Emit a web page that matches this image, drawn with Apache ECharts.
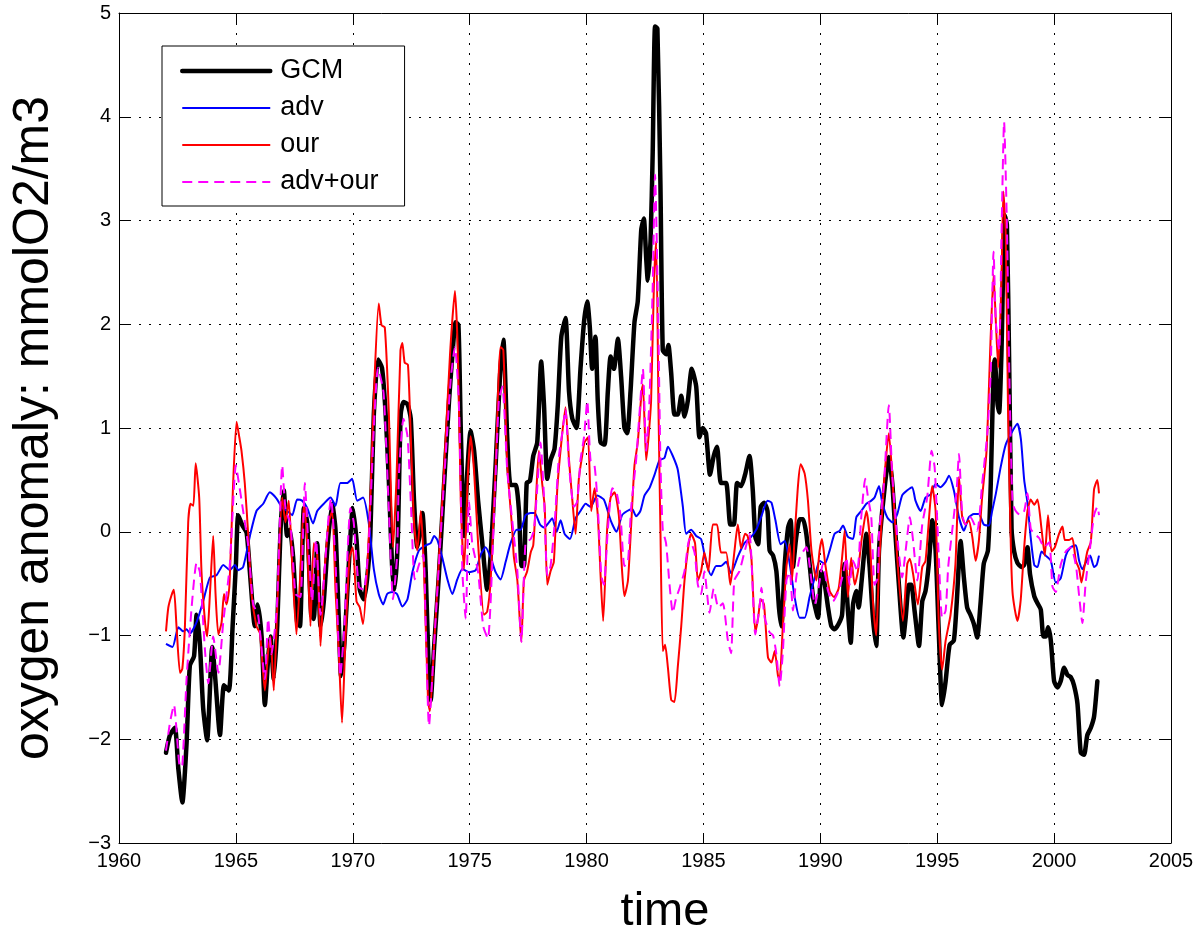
<!DOCTYPE html>
<html>
<head>
<meta charset="utf-8">
<script src="https://cdn.jsdelivr.net/npm/echarts@6/dist/echarts.min.js"></script>
<style>
  html, body { margin: 0; padding: 0; background: #fff; }
  #chart { width: 1197px; height: 938px; }
</style>
</head>
<body>
<div id="chart"></div>
<script>
// GCM oxygen anomaly
const gcmYear = [1962.01,1962.18,1962.39,1962.54,1962.71,1962.89,1963.03,1963.21,1963.32,1963.46,1963.60,1963.77,1963.99,1964.12,1964.32,1964.49,1964.70,1964.86,1965.00,1965.10,1965.28,1965.46,1965.60,1965.81,1965.93,1966.10,1966.24,1966.38,1966.48,1966.62,1966.77,1966.91,1967.05,1967.19,1967.31,1967.45,1967.62,1967.74,1967.91,1968.05,1968.22,1968.33,1968.48,1968.62,1968.76,1968.93,1969.12,1969.26,1969.40,1969.50,1969.64,1969.83,1970.00,1970.16,1970.30,1970.47,1970.61,1970.75,1970.90,1971.08,1971.25,1971.40,1971.54,1971.68,1971.78,1971.92,1972.05,1972.17,1972.34,1972.48,1972.62,1972.76,1972.88,1972.98,1973.12,1973.26,1973.33,1973.48,1973.69,1973.90,1974.12,1974.30,1974.40,1974.52,1974.62,1974.76,1974.90,1975.04,1975.19,1975.36,1975.54,1975.75,1975.90,1976.11,1976.30,1976.44,1976.61,1976.75,1976.97,1977.11,1977.22,1977.32,1977.44,1977.58,1977.72,1977.89,1978.06,1978.18,1978.32,1978.46,1978.63,1978.77,1978.92,1979.10,1979.25,1979.39,1979.57,1979.74,1979.89,1980.03,1980.14,1980.24,1980.38,1980.48,1980.60,1980.77,1980.91,1981.03,1981.17,1981.34,1981.48,1981.62,1981.74,1981.88,1982.05,1982.19,1982.34,1982.45,1982.55,1982.62,1982.74,1982.83,1982.93,1983.03,1983.16,1983.26,1983.40,1983.50,1983.62,1983.76,1983.90,1984.05,1984.19,1984.33,1984.50,1984.69,1984.83,1984.97,1985.11,1985.28,1985.44,1985.58,1985.75,1985.97,1986.15,1986.30,1986.44,1986.61,1986.78,1986.97,1987.11,1987.22,1987.34,1987.45,1987.59,1987.74,1987.83,1987.98,1988.12,1988.23,1988.33,1988.48,1988.62,1988.73,1988.83,1988.97,1989.12,1989.26,1989.40,1989.54,1989.69,1989.90,1990.04,1990.19,1990.33,1990.47,1990.61,1990.78,1990.93,1991.04,1991.18,1991.30,1991.40,1991.54,1991.64,1991.78,1991.97,1992.11,1992.25,1992.39,1992.51,1992.72,1992.93,1993.08,1993.22,1993.36,1993.55,1993.65,1993.79,1993.89,1994.03,1994.22,1994.36,1994.50,1994.64,1994.79,1994.93,1995.07,1995.21,1995.36,1995.53,1995.71,1995.83,1996.00,1996.14,1996.28,1996.42,1996.57,1996.71,1996.85,1996.99,1997.17,1997.29,1997.41,1997.46,1997.58,1997.65,1997.75,1997.89,1997.98,1998.08,1998.18,1998.29,1998.43,1998.60,1998.72,1998.86,1998.97,1999.15,1999.29,1999.43,1999.54,1999.64,1999.74,1999.86,2000.00,2000.14,2000.28,2000.43,2000.57,2000.71,2000.85,2001.00,2001.14,2001.28,2001.42,2001.57,2001.71,2001.85];
const gcmValue = [-2.13,-1.96,-1.89,-2.29,-2.61,-2.04,-1.29,-1.20,-0.80,-1.08,-1.70,-2.01,-1.11,-1.42,-1.96,-1.48,-1.53,-0.91,-0.32,0.16,0.06,-0.01,-0.39,-0.91,-0.70,-1.01,-1.67,-1.22,-1.01,-1.42,-0.90,0.02,0.40,-0.04,0.02,-0.25,-0.87,-0.91,0.23,0.09,-0.80,-0.84,-0.11,-0.91,-0.67,-0.11,0.27,0.02,-0.84,-1.39,-1.08,-0.32,0.23,-0.08,-0.56,-0.65,-0.46,-0.04,1.13,1.66,1.58,1.16,0.51,-0.32,-0.56,-0.11,1.13,1.25,1.23,1.09,0.30,-0.15,-0.01,0.18,-0.39,-1.42,-1.63,-1.11,-0.39,0.44,1.27,1.82,2.02,1.99,0.99,-0.04,0.58,0.97,0.78,0.30,-0.11,-0.56,-0.22,0.64,1.51,1.85,0.89,0.45,0.45,0.20,-0.33,-0.33,0.47,0.49,0.73,0.86,1.64,1.22,0.51,0.69,0.80,1.22,1.88,2.06,1.35,1.09,1.00,1.57,2.02,2.22,1.97,1.57,1.88,1.26,0.86,0.84,1.35,1.69,1.57,1.86,1.49,1.00,0.95,1.35,2.02,2.22,2.91,3.02,2.64,2.42,2.82,3.66,4.87,4.85,3.35,1.75,1.71,1.80,1.53,1.13,1.13,1.31,1.11,1.26,1.57,1.40,0.91,1.00,0.95,0.55,0.73,0.82,0.47,0.47,0.07,0.07,0.47,0.44,0.55,0.73,0.40,-0.05,-0.12,0.24,0.28,0.20,-0.18,-0.23,-0.38,-0.73,-0.91,-0.31,0.04,0.11,-0.34,-0.05,0.12,0.12,-0.02,-0.31,-0.63,-0.83,-0.38,-0.51,-0.73,-0.91,-0.94,-0.89,-0.80,-0.31,-0.76,-1.07,-0.70,-0.57,-0.73,-0.44,-0.02,-0.34,-0.83,-1.10,-0.18,0.36,0.72,0.46,-0.05,-0.51,-1.02,-0.83,-0.51,-0.51,-0.76,-1.10,-0.67,-0.57,-0.31,0.11,-0.18,-0.99,-1.67,-1.44,-1.09,-1.05,-0.70,-0.09,-0.44,-0.73,-0.80,-0.89,-1.02,-0.70,-0.31,-0.18,0.46,1.58,1.66,1.23,1.15,1.75,3.05,2.96,1.58,0.03,-0.19,-0.30,-0.34,-0.32,-0.15,-0.41,-0.62,-0.69,-0.75,-1.01,-1.01,-0.92,-1.05,-1.44,-1.50,-1.44,-1.31,-1.38,-1.40,-1.48,-1.66,-2.13,-2.15,-1.96,-1.89,-1.78,-1.44];

// adv
const advYear = [1962.01,1962.29,1962.54,1962.75,1962.89,1963.03,1963.32,1963.60,1963.89,1964.17,1964.46,1964.74,1964.96,1965.10,1965.31,1965.60,1965.88,1966.17,1966.45,1966.74,1966.98,1967.19,1967.41,1967.62,1967.83,1968.05,1968.30,1968.48,1968.76,1969.05,1969.26,1969.47,1969.76,1969.97,1970.19,1970.44,1970.68,1970.90,1971.11,1971.30,1971.47,1971.68,1971.89,1972.12,1972.34,1972.55,1972.83,1973.12,1973.33,1973.48,1973.62,1973.83,1974.05,1974.26,1974.47,1974.69,1974.97,1975.26,1975.47,1975.68,1975.90,1976.11,1976.32,1976.54,1976.75,1977.01,1977.18,1977.39,1977.61,1977.78,1978.01,1978.18,1978.39,1978.53,1978.72,1978.89,1979.06,1979.29,1979.53,1979.74,1979.96,1980.17,1980.46,1980.74,1981.03,1981.28,1981.52,1981.74,1981.95,1982.12,1982.30,1982.48,1982.69,1982.91,1983.12,1983.33,1983.48,1983.69,1983.90,1984.12,1984.26,1984.47,1984.69,1984.90,1985.11,1985.33,1985.54,1985.75,1985.97,1986.18,1986.47,1986.75,1987.04,1987.26,1987.48,1987.74,1987.91,1988.08,1988.30,1988.48,1988.69,1988.90,1989.12,1989.33,1989.54,1989.76,1989.97,1990.19,1990.40,1990.61,1990.83,1990.97,1991.18,1991.40,1991.54,1991.75,1991.97,1992.18,1992.32,1992.51,1992.65,1992.86,1993.08,1993.29,1993.50,1993.72,1993.93,1994.07,1994.29,1994.50,1994.72,1994.93,1995.14,1995.36,1995.50,1995.71,1995.93,1996.14,1996.35,1996.57,1996.78,1996.99,1997.21,1997.35,1997.51,1997.72,1997.93,1998.22,1998.43,1998.58,1998.72,1998.86,1999.00,1999.15,1999.29,1999.46,1999.64,1999.86,2000.07,2000.28,2000.50,2000.71,2000.93,2001.07,2001.21,2001.35,2001.54,2001.71,2001.82,2001.92];
const advValue = [-1.08,-1.11,-0.92,-0.96,-0.94,-0.98,-0.87,-0.67,-0.44,-0.42,-0.32,-0.37,-0.32,-0.37,-0.34,-0.04,0.20,0.27,0.38,0.32,0.23,0.20,0.16,0.31,0.30,0.23,0.08,0.20,0.27,0.33,0.25,0.47,0.47,0.51,0.30,0.33,0.09,-0.36,-0.60,-0.70,-0.60,-0.58,-0.60,-0.72,-0.65,-0.39,-0.18,-0.13,-0.11,-0.04,-0.08,-0.25,-0.46,-0.60,-0.46,-0.36,-0.39,-0.37,-0.22,-0.15,-0.25,-0.39,-0.46,-0.29,-0.11,0.02,0.02,0.16,0.18,0.18,0.07,0.04,0.09,0.13,0.00,0.11,-0.02,-0.07,0.13,0.20,0.27,0.24,0.35,0.31,0.11,0.00,0.16,0.20,0.22,0.15,0.20,0.35,0.42,0.55,0.69,0.71,0.82,0.73,0.60,0.24,-0.02,0.02,-0.04,-0.07,-0.29,-0.42,-0.33,-0.33,-0.29,-0.40,-0.24,-0.11,-0.05,0.02,0.15,0.30,0.28,0.11,-0.12,-0.09,-0.31,-0.63,-0.83,-0.83,-0.63,-0.44,-0.28,-0.31,-0.18,-0.02,0.01,0.06,-0.05,-0.07,0.14,0.20,0.27,0.30,0.33,0.44,0.28,0.14,0.09,0.17,0.35,0.40,0.43,0.30,0.20,0.33,0.36,0.46,0.43,0.48,0.54,0.40,0.14,0.01,0.14,0.17,0.17,0.07,0.06,0.20,0.37,0.63,0.84,0.97,1.04,0.89,0.50,0.28,-0.06,-0.32,-0.34,-0.19,-0.23,-0.28,-0.49,-0.45,-0.23,-0.15,-0.13,-0.28,-0.36,-0.30,-0.23,-0.34,-0.32,-0.23];

// our
const ourYear = [1962.01,1962.11,1962.25,1962.35,1962.46,1962.61,1962.71,1962.82,1962.96,1963.06,1963.18,1963.28,1963.43,1963.53,1963.68,1963.77,1963.89,1964.03,1964.13,1964.25,1964.39,1964.49,1964.60,1964.72,1964.89,1965.03,1965.14,1965.24,1965.38,1965.53,1965.67,1965.88,1966.03,1966.24,1966.38,1966.48,1966.62,1966.77,1966.98,1967.12,1967.26,1967.41,1967.59,1967.76,1967.91,1968.05,1968.19,1968.33,1968.48,1968.62,1968.76,1968.97,1969.12,1969.26,1969.40,1969.54,1969.69,1969.86,1970.00,1970.16,1970.30,1970.44,1970.61,1970.75,1970.93,1971.11,1971.23,1971.37,1971.54,1971.72,1971.87,1972.04,1972.12,1972.22,1972.36,1972.48,1972.62,1972.76,1972.91,1973.05,1973.22,1973.30,1973.48,1973.69,1973.90,1974.16,1974.37,1974.50,1974.62,1974.76,1974.93,1975.04,1975.19,1975.36,1975.61,1975.75,1975.90,1976.11,1976.32,1976.44,1976.61,1976.82,1976.89,1977.04,1977.21,1977.32,1977.46,1977.61,1977.72,1977.82,1977.96,1978.10,1978.21,1978.32,1978.46,1978.60,1978.75,1978.92,1979.10,1979.25,1979.39,1979.53,1979.67,1979.81,1979.91,1980.06,1980.20,1980.34,1980.48,1980.60,1980.71,1980.88,1981.03,1981.20,1981.38,1981.52,1981.62,1981.77,1981.91,1982.05,1982.19,1982.34,1982.41,1982.55,1982.65,1982.76,1982.88,1982.98,1983.08,1983.16,1983.26,1983.36,1983.48,1983.62,1983.76,1983.90,1984.05,1984.19,1984.36,1984.47,1984.64,1984.76,1984.90,1985.04,1985.21,1985.40,1985.58,1985.75,1985.97,1986.15,1986.32,1986.47,1986.61,1986.78,1986.89,1987.05,1987.22,1987.34,1987.45,1987.59,1987.76,1987.91,1988.05,1988.19,1988.26,1988.40,1988.55,1988.69,1988.79,1988.90,1989.05,1989.16,1989.33,1989.47,1989.62,1989.83,1989.97,1990.07,1990.21,1990.40,1990.58,1990.78,1990.93,1991.04,1991.18,1991.32,1991.47,1991.61,1991.78,1991.97,1992.11,1992.25,1992.39,1992.51,1992.72,1992.93,1993.08,1993.29,1993.53,1993.72,1993.83,1993.97,1994.17,1994.36,1994.50,1994.79,1994.93,1995.07,1995.21,1995.36,1995.57,1995.78,1995.93,1996.07,1996.21,1996.35,1996.50,1996.64,1996.78,1996.92,1997.11,1997.29,1997.41,1997.51,1997.61,1997.75,1997.83,1997.93,1998.03,1998.15,1998.22,1998.32,1998.43,1998.57,1998.72,1998.86,1999.00,1999.15,1999.29,1999.46,1999.60,1999.74,1999.89,2000.03,2000.21,2000.36,2000.46,2000.64,2000.78,2000.93,2001.07,2001.17,2001.28,2001.42,2001.57,2001.71,2001.85,2001.92];
const ourValue = [-0.96,-0.73,-0.61,-0.56,-0.91,-1.36,-1.32,-0.91,0.09,0.27,0.25,0.66,0.33,-0.39,-0.87,-1.01,-0.60,-0.04,-0.60,-0.99,-0.87,-0.60,-0.70,-0.53,0.51,1.06,0.92,0.78,0.47,-0.04,-0.60,-0.91,-0.98,-1.53,-1.15,-1.01,-1.53,-0.73,0.33,0.09,0.30,-0.32,-0.99,-0.39,0.27,-0.11,-0.91,-0.11,-0.22,-1.10,-0.49,0.09,0.20,-0.56,-1.15,-1.84,-1.01,-0.25,-0.15,-0.67,-0.73,-0.89,-0.39,0.30,1.47,2.20,1.99,1.97,1.16,-0.15,0.51,1.75,1.82,1.63,1.61,0.92,0.09,-0.18,0.20,-0.39,-1.63,-1.73,-1.08,-0.25,0.58,1.71,2.32,1.68,0.30,-0.36,0.58,0.92,0.58,-0.11,-0.80,-0.77,-0.46,0.64,1.78,1.75,0.64,0.02,-0.24,-0.47,-1.06,-0.47,-0.38,-0.20,-0.13,0.24,0.78,0.47,0.24,-0.51,-0.38,-0.29,0.42,0.86,1.20,0.69,0.31,-0.02,0.51,0.73,0.86,0.91,0.20,0.42,0.16,-0.42,-0.86,0.02,0.33,0.38,0.16,-0.38,-0.62,-0.47,0.07,0.64,0.86,1.31,1.42,0.69,0.91,1.26,2.37,2.80,1.13,0.02,-1.15,-1.09,-1.31,-1.62,-1.64,-1.31,-0.91,-0.47,-0.13,-0.02,-0.11,-0.47,-0.38,-0.20,-0.38,0.07,0.07,-0.20,-0.20,-0.51,-0.20,0.07,-0.16,-0.02,-0.04,-0.25,-0.97,-0.83,-0.65,-0.70,-1.21,-1.26,-1.15,-1.39,-1.42,-0.89,-0.34,-0.12,-0.47,-0.05,0.46,0.65,0.56,0.30,-0.18,-0.47,-0.18,-0.07,-0.31,-0.57,-0.63,-0.55,-0.25,0.01,-0.63,-0.25,-0.51,-0.38,-0.05,0.20,-0.05,-0.67,-1.00,-0.34,0.46,0.95,0.53,-0.25,-0.86,-0.31,-0.26,-0.41,-0.70,-0.34,-0.28,0.44,0.20,-0.89,-1.33,-1.05,-0.80,-0.31,0.53,0.14,0.07,0.11,-0.05,-0.28,-0.09,0.33,0.78,1.90,2.48,2.01,1.58,2.44,3.28,2.87,1.15,-0.15,-0.58,-0.75,-0.86,-0.66,-0.15,0.20,0.31,0.26,0.31,0.03,-0.23,0.16,-0.19,-0.15,-0.02,0.05,-0.08,-0.08,-0.06,-0.28,-0.36,-0.49,-0.36,-0.19,-0.10,0.41,0.50,0.37];

// adv+our
const sumYear = [1962.01,1962.18,1962.35,1962.61,1962.71,1962.89,1963.11,1963.32,1963.46,1963.68,1963.82,1964.03,1964.25,1964.46,1964.74,1965.00,1965.10,1965.31,1965.53,1965.74,1965.95,1966.24,1966.38,1966.52,1966.74,1966.84,1966.98,1967.12,1967.34,1967.55,1967.76,1967.95,1968.12,1968.26,1968.43,1968.62,1968.97,1969.07,1969.26,1969.47,1969.64,1969.90,1970.04,1970.26,1970.47,1970.68,1970.90,1971.08,1971.32,1971.54,1971.72,1971.89,1971.98,1972.17,1972.34,1972.48,1972.65,1972.83,1973.02,1973.12,1973.26,1973.48,1973.90,1974.19,1974.37,1974.54,1974.69,1974.83,1974.97,1975.11,1975.36,1975.58,1975.78,1976.04,1976.25,1976.40,1976.61,1976.89,1977.04,1977.21,1977.39,1977.61,1977.75,1977.89,1978.03,1978.18,1978.32,1978.46,1978.63,1978.82,1978.96,1979.10,1979.25,1979.46,1979.60,1979.74,1979.89,1980.03,1980.17,1980.34,1980.48,1980.63,1980.74,1980.91,1981.10,1981.28,1981.45,1981.62,1981.77,1981.91,1982.12,1982.26,1982.41,1982.55,1982.69,1982.83,1982.93,1983.05,1983.16,1983.26,1983.40,1983.55,1983.69,1983.83,1983.97,1984.19,1984.40,1984.62,1984.76,1984.90,1985.04,1985.26,1985.44,1985.64,1985.83,1986.04,1986.18,1986.32,1986.54,1986.75,1986.97,1987.22,1987.41,1987.48,1987.62,1987.83,1987.98,1988.12,1988.26,1988.40,1988.55,1988.69,1988.83,1988.97,1989.12,1989.40,1989.62,1989.76,1989.90,1990.11,1990.33,1990.54,1990.78,1990.97,1991.11,1991.25,1991.40,1991.58,1991.75,1991.92,1992.04,1992.18,1992.32,1992.46,1992.51,1992.72,1992.93,1993.08,1993.29,1993.50,1993.65,1993.83,1993.97,1994.15,1994.36,1994.57,1994.76,1994.89,1995.07,1995.21,1995.36,1995.47,1995.64,1995.83,1995.93,1996.07,1996.21,1996.42,1996.71,1996.92,1997.14,1997.28,1997.41,1997.51,1997.65,1997.75,1997.86,1997.98,1998.08,1998.22,1998.36,1998.55,1998.72,1998.86,1999.00,1999.15,1999.36,1999.57,1999.79,1999.93,2000.07,2000.28,2000.50,2000.71,2000.93,2001.07,2001.21,2001.35,2001.54,2001.71,2001.85,2001.92];
const sumValue = [-2.11,-1.84,-1.67,-2.27,-2.25,-1.42,-0.72,-0.30,-0.39,-1.15,-1.46,-1.01,-1.36,-0.87,-0.32,0.64,0.51,0.20,-0.14,-0.70,-0.80,-1.42,-0.84,-1.18,-0.77,-0.18,0.64,0.23,0.06,-0.60,-0.63,0.47,-0.22,-0.67,-0.08,-0.80,0.16,0.32,-0.29,-1.39,-0.91,0.23,0.09,-0.53,-0.56,-0.11,0.99,1.58,1.33,0.23,-0.65,-0.25,0.58,1.09,0.92,0.30,-0.46,-0.32,-0.22,-0.91,-1.87,-1.08,0.47,1.47,1.78,1.23,-0.39,-0.84,0.30,-0.11,-0.39,-0.91,-1.03,0.13,1.27,1.40,0.58,-0.04,-0.38,-1.06,-0.11,-0.07,0.02,0.42,0.86,0.33,-0.42,-0.33,0.07,0.73,0.95,1.18,0.64,0.24,0.29,0.69,0.91,1.26,0.69,0.64,0.24,-0.42,-0.51,0.02,0.42,0.38,0.16,-0.33,-0.29,0.24,0.69,1.13,1.57,0.78,1.26,2.37,3.44,2.24,0.69,0.02,-0.11,-0.51,-0.78,-0.64,-0.55,-0.38,-0.07,-0.20,-0.51,-0.60,-0.38,-0.78,-0.55,-0.73,-0.69,-1.04,-1.17,-0.47,-0.38,-0.20,-0.02,-0.99,-0.70,-0.54,-0.83,-0.97,-1.00,-1.18,-1.49,-1.15,-0.47,-0.39,-0.76,-0.44,-0.25,-0.15,-0.47,-0.70,-0.57,-0.31,-0.57,-0.67,-0.57,-0.41,-0.25,-0.51,-0.28,-0.38,0.14,0.51,0.33,0.14,-0.51,-0.44,-0.02,0.46,1.22,0.53,-0.05,-0.44,-0.18,0.14,-0.09,-0.47,0.07,0.33,0.78,0.62,-0.25,-0.83,-0.76,-0.34,0.01,0.40,0.75,0.17,0.07,0.14,0.01,0.46,0.94,1.49,2.70,2.01,1.75,2.87,3.95,2.96,1.58,0.28,0.20,0.16,0.20,0.37,0.03,-0.02,-0.06,-0.15,-0.10,-0.53,-0.58,-0.32,-0.19,-0.15,-0.32,-0.62,-0.88,-0.49,-0.15,0.16,0.24,0.16];

const seriesNames = ["GCM", "adv", "our", "adv+our"];
const seriesColors = ["#000000", "#0000ff", "#ff0000", "#ff00ff"];
const seriesWidths = [4.5, 2, 2, 2];

function pairs(xs, ys) {
  return xs.map((x, i) => [x, ys[i]]);
}

const FONT = "'Liberation Sans', Arial, Helvetica, sans-serif";
const chart = echarts.init(document.getElementById("chart"), null, { renderer: "canvas" });

const gridDots = { color: "#000", width: 1, type: [2, 8] };
const tickStyle = { show: true, inside: true, length: 10, lineStyle: { color: "#000", width: 1 } };
const axisLine = { show: true, onZero: false, lineStyle: { color: "#000", width: 1 } };
const dash = [10, 6];

const option = {
  backgroundColor: "#fff",
  animation: false,
  // keep the plot box fixed even though the big axis titles reach the page edge
  grid: { left: 119, right: 26, top: 13, bottom: 95, containLabel: false, outerBoundsMode: "none" },
  legend: {
    orient: "vertical",
    left: 162,
    top: 46,
    backgroundColor: "#fff",
    borderColor: "#000",
    borderWidth: 1,
    padding: [10, 26, 9, 18],
    itemWidth: 88,
    itemHeight: 14,
    itemGap: 7,
    itemStyle: { opacity: 0 },
    textStyle: { fontSize: 27, color: "#000", fontFamily: FONT, lineHeight: 30, padding: [0, 0, 0, 5] },
    data: seriesNames.map((name, i) => ({
      name: name,
      lineStyle: {
        color: seriesColors[i],
        width: seriesWidths[i],
        type: name === "adv+our" ? dash : "solid",
      },
    })),
  },
  xAxis: [
    {
      type: "value",
      min: 1960,
      max: 2005,
      interval: 5,
      position: "bottom",
      axisLine: axisLine,
      axisTick: tickStyle,
      axisLabel: { fontSize: 20, color: "#000", fontFamily: FONT, margin: 8, formatter: (v) => String(v) },
      splitLine: { show: true, lineStyle: gridDots },
      name: "time",
      nameLocation: "middle",
      nameGap: 46,
      nameTextStyle: { fontSize: 47, color: "#000", fontFamily: FONT, padding: [0, 0, 0, 40] },
    },
    {
      type: "value",
      min: 1960,
      max: 2005,
      interval: 5,
      position: "top",
      axisLine: axisLine,
      axisTick: tickStyle,
      axisLabel: { show: false },
      splitLine: { show: false },
    },
  ],
  yAxis: [
    {
      type: "value",
      min: -3,
      max: 5,
      interval: 1,
      position: "left",
      axisLine: axisLine,
      axisTick: tickStyle,
      axisLabel: {
        fontSize: 20,
        color: "#000",
        fontFamily: FONT,
        margin: 8,
        formatter: (v) => String(v).replace("-", "\u2212"),
      },
      splitLine: { show: true, lineStyle: gridDots },
      name: "oxygen anomaly: mmolO2/m3",
      nameLocation: "middle",
      nameGap: 60,
      nameTextStyle: { fontSize: 50, color: "#000", fontFamily: FONT },
    },
    {
      type: "value",
      min: -3,
      max: 5,
      interval: 1,
      position: "right",
      axisLine: axisLine,
      axisTick: tickStyle,
      axisLabel: { show: false },
      splitLine: { show: false },
    },
  ],
  series: [
    {
      name: "GCM",
      type: "line",
      symbol: "none",
      smooth: 0.2,
      data: pairs(gcmYear, gcmValue),
      lineStyle: { color: seriesColors[0], width: seriesWidths[0], join: "round", cap: "round" },
      itemStyle: { color: seriesColors[0] },
    },
    {
      name: "adv",
      type: "line",
      symbol: "none",
      smooth: 0.2,
      data: pairs(advYear, advValue),
      lineStyle: { color: seriesColors[1], width: seriesWidths[1] },
      itemStyle: { color: seriesColors[1] },
    },
    {
      name: "our",
      type: "line",
      symbol: "none",
      smooth: 0.2,
      data: pairs(ourYear, ourValue),
      lineStyle: { color: seriesColors[2], width: seriesWidths[2] },
      itemStyle: { color: seriesColors[2] },
    },
    {
      name: "adv+our",
      type: "line",
      symbol: "none",
      smooth: 0.2,
      data: pairs(sumYear, sumValue),
      lineStyle: { color: seriesColors[3], width: seriesWidths[3], type: dash },
      itemStyle: { color: seriesColors[3] },
    },
  ],
};

chart.setOption(option);
</script>
</body>
</html>
